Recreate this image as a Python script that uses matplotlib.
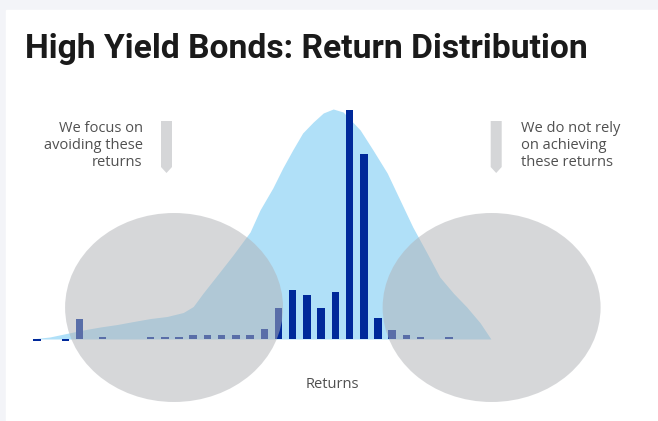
import matplotlib
matplotlib.use("Agg")
import matplotlib.pyplot as plt
from matplotlib.patches import Ellipse, Polygon, Rectangle

W, H = 658, 421

# histogram of returns (bin centre, frequency)
bin_pos = [-22, -20, -19, -17.4, -14, -13, -12, -11, -10, -9, -8, -7, -6, -5, -4,
           -3, -2, -1, 0, 1, 2, 3, 4, 5, 7]
bin_freq = [-0.2, -0.2, 2.0, 0.2, 0.2, 0.2, 0.2, 0.4, 0.4, 0.4, 0.4, 0.4, 1.0, 3.1, 4.9,
            4.4, 3.1, 4.7, 22.9, 18.5, 2.1, 0.9, 0.4, 0.2, 0.2]

# smoothed distribution outline
curve_x = [-22.4, -21.1, -18.75, -17.55, -16.35, -15.2, -14.0, -12.85, -11.7, -11.0,
           -10.3, -9.3, -8.2, -7.0, -6.3, -5.4, -4.7, -4.0, -3.3, -2.55, -1.85, -1.15,
           -0.45, 0.75, 1.65, 2.65, 3.55, 4.45, 5.45, 6.35, 7.3, 8.25, 9.2, 9.95]
curve_y = [0, 0.2, 0.9, 1.2, 1.45, 1.75, 2.05, 2.25, 2.65, 3.25,
           4.6, 6.4, 8.4, 10.7, 12.9, 15.1, 17.1, 18.9, 20.6, 21.7, 22.6, 23.0,
           22.7, 20.9, 18.9, 16.6, 13.9, 11.2, 8.6, 6.2, 4.6, 3.2, 1.6, 0]

title = "High Yield Bonds: Return Distribution"
left_note = ["We focus on", "avoiding these", "returns"]
right_note = ["We do not rely", "on achieving", "these returns"]
x_label = "Returns"

dark_blue = "#00299a"
light_blue = "#b0e0f8"
grey = "#b0b2b6"
text_grey = "#505050"


def fx(px):
    return px / W


def fy(py):
    return 1 - py / H


fig = plt.figure(figsize=(W / 100, H / 100), dpi=100)
fig.patch.set_facecolor("#f3f4f8")
fig.add_artist(Rectangle((fx(6), 0), 1, fy(10), transform=fig.transFigure,
                         color="white", zorder=-5))

ax = fig.add_axes([0, 0, 1, 1])
ax.axis("off")
ax.set_xlim(-24.6, 21.71)
ax.set_ylim(-8.2, 33.9)

ax.fill_between(curve_x, curve_y, 0, color=light_blue, lw=0, zorder=1)
ax.bar(bin_pos, bin_freq, width=0.53, color=dark_blue, zorder=2)

for cx in (-12.35, 10.0):
    ax.add_patch(Ellipse((cx, 3.15), 15.34, 18.9, color=grey, alpha=0.51, lw=0, zorder=3))

# down arrows
for ax_px in (166.5, 496.2):
    pts = [(ax_px - 5.5, 121), (ax_px + 5.5, 121), (ax_px + 5.5, 167),
           (ax_px, 173), (ax_px - 5.5, 167)]
    fig.add_artist(Polygon([(fx(a), fy(b)) for a, b in pts], closed=True,
                           transform=fig.transFigure, color="#d5d6d8", lw=0))

font = ["Open Sans", "DejaVu Sans"]
t = fig.text(fx(25), fy(57.7), title, fontsize=24, fontweight="bold",
             family=["Roboto", "DejaVu Sans"], color="#1a1a1a", va="baseline", ha="left")
fig.canvas.draw()
w = t.get_window_extent().width
t.set_fontsize(24 * 563 / w)

for i, line in enumerate(left_note):
    fig.text(fx(142.7), fy(131.7 + 17 * i), line, fontsize=10.5, family=font,
             color=text_grey, ha="right", va="baseline")
for i, line in enumerate(right_note):
    fig.text(fx(521), fy(131.7 + 17 * i), line, fontsize=10.5, family=font,
             color=text_grey, ha="left", va="baseline")

fig.text(fx(332), fy(387.5), x_label, fontsize=10.5, family=font,
         color=text_grey, ha="center", va="baseline")

fig.savefig("out.png", dpi=100, facecolor=fig.get_facecolor())
